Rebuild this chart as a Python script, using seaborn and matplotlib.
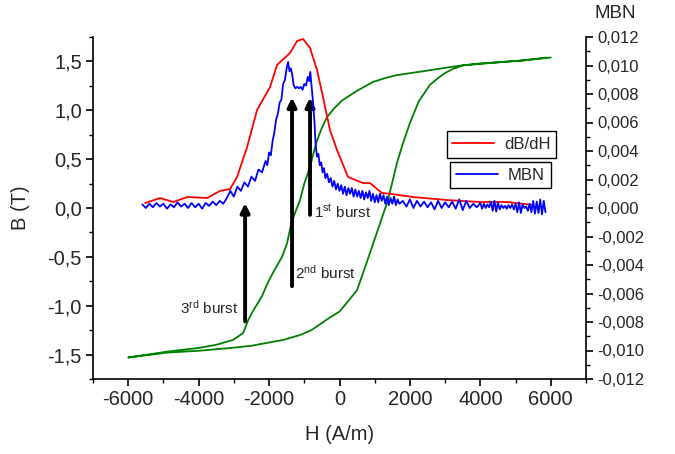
import matplotlib
matplotlib.use("Agg")
import matplotlib.pyplot as plt
import matplotlib.ticker as mticker
from matplotlib.lines import Line2D
import seaborn as sns
import pandas as pd

# hysteresis loop B(H), upper (descending) and lower (ascending) branches
h_down = [6000, 5200, 4468, 4000, 3504, 3000, 2567, 2100, 1631, 1300, 950, 500,
          71, -150, -355, -500, -638, -740, -837, -1000, -1121,
          -1262, -1376, -1489, -1631, -1887, -2057, -2198, -2482, -2596, -2738,
          -3021, -3500, -3957, -4894, -6000]
b_down = [1.54, 1.51, 1.49, 1.475, 1.46, 1.435, 1.41, 1.385, 1.36, 1.33, 1.29, 1.20,
          1.10, 1.02, 0.93, 0.82, 0.69, 0.56, 0.42, 0.25, 0.08,
          -0.05, -0.17, -0.36, -0.50, -0.66, -0.78, -0.90, -1.07, -1.15, -1.28,
          -1.35, -1.40, -1.43, -1.47, -1.53]
h_up = [-6000, -4894, -3957, -3021, -2500, -2057, -1600, -1121, -800, -553, -270,
        0, 300, 500, 780, 1092, 1376, 1631, 1800, 2000, 2250, 2567, 2800, 2993,
        3200, 3504, 4000, 4468, 5200, 5887]
b_up = [-1.53, -1.48, -1.46, -1.43, -1.41, -1.38, -1.35, -1.30, -1.25, -1.19, -1.12,
        -1.06, -0.93, -0.84, -0.55, -0.22, 0.08, 0.46, 0.66, 0.87, 1.09, 1.26, 1.33, 1.38,
        1.42, 1.46, 1.48, 1.49, 1.51, 1.54]

# dB/dH (scaled to right axis, units of 1e-3)
h_dbdh = [-5518, -5092, -4723, -4326, -3759, -3390, -3106, -2908, -2624, -2340,
          -1972, -1773, -1404, -1206, -1035, -837, -638, -470, -270, -71, 241,
          667, 865, 1206, 1433, 2085, 3050, 3986, 4752, 5489]
v_dbdh = [0.35, 0.7, 0.42, 0.77, 0.7, 1.2, 1.33, 2.18, 4.28, 6.88,
          8.49, 10.04, 10.88, 11.72, 11.86, 11.23, 9.68, 7.8, 5.47, 4.07, 2.18,
          1.75, 1.75, 1.05, 1.0, 0.77, 0.56, 0.42, 0.42, 0.21]

# MBN signal (units of 1e-3)
h_mbn = [-5600, -5500, -5400, -5300, -5200, -5100, -5000, -4900, -4800, -4700,
         -4600, -4500, -4400, -4300, -4200, -4100, -4000, -3900, -3800, -3700,
         -3600, -3500, -3400, -3300, -3200, -3100, -3000, -2900, -2800, -2700,
         -2600, -2500, -2400, -2300, -2200, -2100, -2050, -2000, -1950, -1900,
         -1850, -1800, -1750, -1700, -1650, -1600, -1550, -1500, -1460, -1420,
         -1380, -1340, -1300, -1250, -1200, -1150, -1100, -1050, -1000, -950,
         -900, -860, -830, -790, -750, -710, -680, -640, -600, -560,
         -520, -480, -440, -400, -350, -300, -250, -200, -150, -100,
         -50, 0, 50, 100, 150, 200, 250, 300, 350, 400,
         450, 500, 550, 600, 650, 700, 750, 800, 850, 900,
         950, 1000, 1050, 1100, 1150, 1200, 1250, 1300, 1350, 1400,
         1450, 1500, 1550, 1600, 1650, 1700, 1800, 1900, 2000, 2100,
         2200, 2300, 2400, 2500, 2600, 2700, 2800, 2900, 3000, 3100,
         3200, 3300, 3400, 3500, 3600, 3700, 3800, 3900, 4000, 4050,
         4100, 4150, 4200, 4250, 4300, 4350, 4400, 4450, 4500, 4550,
         4600, 4650, 4700, 4750, 4800, 4850, 4900, 4950, 5000, 5050,
         5100, 5150, 5200, 5250, 5300, 5350, 5400, 5450, 5500, 5550,
         5600, 5650, 5700, 5750, 5800, 5850]
v_mbn = [0.25, 0.0, 0.3, 0.05, 0.35, 0.1, 0.3, -0.05, 0.25, 0.05,
         0.4, 0.1, 0.3, 0.0, 0.35, 0.05, 0.3, -0.05, 0.35, 0.15,
         0.45, 0.2, 0.5, 0.3, 0.7, 1.2, 0.8, 1.5, 1.2, 1.8,
         1.5, 2.2, 1.9, 2.7, 2.5, 3.3, 3.0, 3.9, 3.7, 4.7,
         5.3, 6.2, 6.6, 7.4, 7.6, 8.7, 9.0, 9.8, 10.25, 9.6,
         9.8, 9.3, 8.6, 8.4, 8.5, 8.4, 8.5, 8.3, 8.7, 8.6,
         9.2, 8.9, 9.55, 8.5, 7.4, 6.0, 4.5, 3.6, 3.8, 3.0,
         3.2, 2.5, 2.8, 2.1, 2.4, 1.8, 2.1, 1.5, 1.9, 1.3,
         1.7, 1.2, 1.6, 1.0, 1.5, 0.9, 1.4, 1.0, 1.4, 0.8,
         1.3, 0.8, 1.2, 0.7, 1.2, 0.6, 1.1, 0.7, 1.2, 0.5,
         1.0, 0.4, 0.9, 0.4, 1.0, 0.5, 0.9, 0.3, 0.8, 0.2,
         0.7, 0.3, 0.8, 0.2, 0.6, 0.3, 0.5, 0.1, 0.6, 0.0,
         0.5, 0.1, 0.45, 0.05, 0.4, -0.1, 0.5, 0.0, 0.4, 0.05,
         0.45, -0.05, 0.6, -0.15, 0.5, 0.0, 0.3, 0.05, 0.35, -0.05,
         0.3, 0.0, 0.25, 0.05, 0.45, -0.2, 0.5, -0.25, 0.4, -0.1,
         0.2, 0.0, 0.15, -0.05, 0.2, 0.0, 0.25, -0.1, 0.3, -0.3,
         0.4, -0.35, 0.25, 0.0, 0.1, -0.2, 0.3, -0.3, 0.5, -0.4,
         0.45, -0.35, 0.6, -0.45, 0.5, -0.3]

# burst arrows: H position, tail B, tip B
burst_h = [-837, -1348, -2681]
burst_tail = [-0.07, -0.80, -1.16]
burst_tip = [1.13, 1.13, 0.05]

sns.set_style("ticks")
plt.rcParams["font.family"] = ["Liberation Sans", "DejaVu Sans"]
plt.rcParams["mathtext.default"] = "regular"

fig = plt.figure(figsize=(6.75, 4.54), dpi=100)
ax = fig.add_axes([93 / 675, 1 - 379 / 454, 493 / 675, 342 / 454])
ax2 = ax.twinx()

green = "#008000"
loop = pd.DataFrame({"H": h_down + h_up, "B": b_down + b_up})
sns.lineplot(data=loop, x="H", y="B", sort=False, estimator=None, ax=ax,
             color=green, lw=1.3)

dbdh = pd.DataFrame({"H": h_dbdh, "v": [v * 1e-3 for v in v_dbdh]})
mbn = pd.DataFrame({"H": h_mbn, "v": [v * 1e-3 for v in v_mbn]})
sns.lineplot(data=dbdh, x="H", y="v", sort=False, estimator=None, ax=ax2,
             color="#ff0000", lw=1.3)
sns.lineplot(data=mbn, x="H", y="v", sort=False, estimator=None, ax=ax2,
             color="#0000ff", lw=1.3)

for h, t0, t1 in zip(burst_h, burst_tail, burst_tip):
    ax.annotate("", xy=(h, t1), xytext=(h, t0),
                arrowprops=dict(arrowstyle="-|>", lw=2.8, color="black",
                                mutation_scale=13, shrinkA=0, shrinkB=0))
ax.text(-720, -0.04, "1$^{st}$ burst", fontsize=11, va="center", ha="left")
ax.text(-1250, -0.66, "2$^{nd}$ burst", fontsize=11, va="center", ha="left")
ax.text(-2870, -1.02, "3$^{rd}$ burst", fontsize=11, va="center", ha="right")

ax.set_xlim(-7000, 7000)
ax.set_ylim(-1.75, 1.75)
ax2.set_ylim(-0.012, 0.012)

comma = lambda fmt: mticker.FuncFormatter(lambda v, p: (fmt % v).replace(".", ","))
ax.xaxis.set_major_locator(mticker.MultipleLocator(2000))
ax.xaxis.set_minor_locator(mticker.MultipleLocator(1000))
ax.xaxis.set_major_formatter(mticker.FuncFormatter(lambda v, p: "%d" % v))
ax.yaxis.set_major_locator(mticker.MultipleLocator(0.5))
ax.yaxis.set_minor_locator(mticker.MultipleLocator(0.25))
ax.yaxis.set_major_formatter(comma("%.1f"))
ax2.yaxis.set_major_locator(mticker.MultipleLocator(0.002))
ax2.yaxis.set_minor_locator(mticker.MultipleLocator(0.001))
ax2.yaxis.set_major_formatter(comma("%.3f"))

for a in (ax, ax2):
    a.spines["top"].set_visible(False)
    a.tick_params(which="major", direction="out", length=5, width=1.2, color="black")
    a.tick_params(which="minor", direction="out", length=3, width=1.0, color="black")
ax.spines["right"].set_visible(False)
ax2.spines["left"].set_visible(False)
ax2.spines["bottom"].set_visible(False)
for s in ("left", "bottom"):
    ax.spines[s].set_linewidth(1.2)
    ax.spines[s].set_color("black")
ax2.spines["right"].set_linewidth(1.2)
ax2.spines["right"].set_color("black")

ax.tick_params(axis="both", which="major", labelsize=14.5, pad=3)
ax2.tick_params(axis="y", which="major", labelsize=12, pad=3)

ax.set_xlabel("H (A/m)", fontsize=14.5)
ax.set_ylabel("B (T)", fontsize=14.5)
ax2.set_ylabel("")
ax.xaxis.set_label_coords(0.5, -0.134)
ax.yaxis.set_label_coords(-0.128, 0.5)
fig.text(615 / 675, 1 - 14 / 454, "MBN", fontsize=13.5, ha="center", va="center")

leg_kw = dict(frameon=True, fancybox=False, framealpha=1, edgecolor="black",
              fontsize=12, handlelength=2.5, borderpad=0.35, handletextpad=0.6,
              bbox_transform=fig.transFigure, loc="center")
h1 = [Line2D([], [], color="#ff0000", lw=1.3)]
h2 = [Line2D([], [], color="#0000ff", lw=1.3)]
l1 = ax2.legend(h1, ["dB/dH"], bbox_to_anchor=(501.5 / 675, 1 - 144.5 / 454), **leg_kw)
ax2.add_artist(l1)
l2 = ax2.legend(h2, ["MBN"], bbox_to_anchor=(500.5 / 675, 1 - 175 / 454), **leg_kw)
for l in (l1, l2):
    l.get_frame().set_linewidth(1.0)

fig.savefig("out.png", dpi=100)
